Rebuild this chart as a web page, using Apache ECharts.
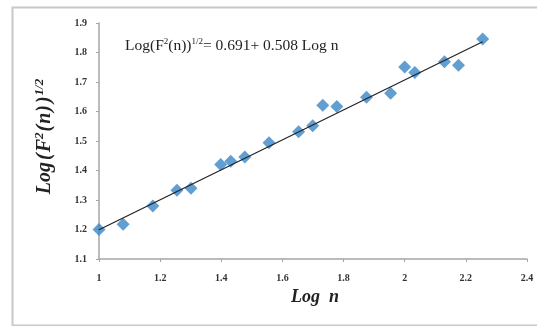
<!DOCTYPE html>
<html><head><meta charset="utf-8">
<script src="https://cdn.jsdelivr.net/npm/echarts@6/dist/echarts.min.js"></script>
<style>html,body{margin:0;padding:0;background:#fff}#c{width:537px;height:326px}</style>
</head><body><div id="c"></div>
<script>
var logN = [1.000, 1.079, 1.176, 1.255, 1.301, 1.398, 1.431, 1.477, 1.556, 1.653, 1.699, 1.732, 1.778, 1.875, 1.954, 2.000, 2.033, 2.130, 2.176, 2.255];
var logF = [1.200, 1.218, 1.280, 1.333, 1.340, 1.420, 1.431, 1.446, 1.494, 1.531, 1.552, 1.621, 1.617, 1.648, 1.662, 1.751, 1.732, 1.769, 1.757, 1.846];
var fitIntercept = 0.691, fitSlope = 0.508;
var fitX = [1.0, 2.255];
var xTicks = {min: 1, max: 2.4, interval: 0.2};
var yTicks = {min: 1.1, max: 1.9, interval: 0.1};

var pts = logN.map(function(x, i){ return [x, logF[i]]; });
var fitPts = fitX.map(function(x){ return [x, fitIntercept + fitSlope * x]; });
var serif = '"Liberation Serif", "DejaVu Serif", serif';

var chart = echarts.init(document.getElementById('c'));
chart.setOption({
  animation: false,
  grid: {left: 99, right: 10, top: 23, bottom: 67},
  graphic: [
    {type: 'rect', left: 10, top: 5, shape: {x: 0, y: 0, width: 540, height: 318}, style: {fill: 'none', stroke: '#c8c8c8', lineWidth: 2}, silent: true},
    {type: 'text', left: 125, top: 37, style: {
      text: '{a|Log(F}{s|2}{a|(n))}{s|1/2}{a|= 0.691+ 0.508 Log n}',
      rich: {
        a: {fontFamily: serif, fontSize: 15.5, fill: '#222'},
        s: {fontFamily: serif, fontSize: 9, fill: '#222', verticalAlign: 'top', padding: [0, 0, 9, 0]}
      }
    }},
    {type: 'text', left: 291, top: 288, style: {
      text: 'Log  n', fontFamily: serif, fontSize: 18, fontWeight: 'bold', fontStyle: 'italic', fill: '#222'
    }},
    {type: 'text', x: 45, y: 137, rotation: Math.PI / 2, style: {
      text: '{a|Log}{a|(}{b|F}{s|2}{a|(}{b|n}{a|)}{a|)}{s|1/2}',
      align: 'center', verticalAlign: 'middle',
      rich: {
        a: {fontFamily: serif, fontSize: 20, fontWeight: 'bold', fontStyle: 'italic', fill: '#222', padding: [0, 1, 0, 1]},
        b: {fontFamily: serif, fontSize: 20, fontWeight: 'bold', fontStyle: 'italic', fill: '#222'},
        s: {fontFamily: serif, fontSize: 13, fontWeight: 'bold', fontStyle: 'italic', fill: '#222', verticalAlign: 'top', padding: [0, 0, 11, 0]}
      }
    }}
  ],
  xAxis: {
    type: 'value', min: xTicks.min, max: xTicks.max, interval: xTicks.interval,
    splitLine: {show: false},
    axisLine: {show: true, onZero: false, lineStyle: {color: '#a6a6a6', width: 1.5}},
    axisTick: {show: true, length: 3, lineStyle: {color: '#a6a6a6'}},
    axisLabel: {margin: 14, fontFamily: serif, fontSize: 10, fontWeight: 'bold', color: '#333',
      formatter: function(v){ return String(Math.round(v * 10) / 10); }}
  },
  yAxis: {
    type: 'value', min: yTicks.min, max: yTicks.max, interval: yTicks.interval,
    splitLine: {show: false},
    axisLine: {show: true, onZero: false, lineStyle: {color: '#a6a6a6', width: 1.5}},
    axisTick: {show: true, length: 3, lineStyle: {color: '#a6a6a6'}},
    axisLabel: {margin: 12, fontFamily: serif, fontSize: 10, fontWeight: 'bold', color: '#333',
      formatter: function(v){ return v.toFixed(1); }}
  },
  series: [
    {type: 'line', data: fitPts, symbol: 'none', lineStyle: {color: '#222', width: 1.2}, z: 3},
    {type: 'scatter', data: pts, symbol: 'diamond', symbolSize: 13, itemStyle: {color: '#3a86c6'}, z: 2}
  ]
});
</script></body></html>
